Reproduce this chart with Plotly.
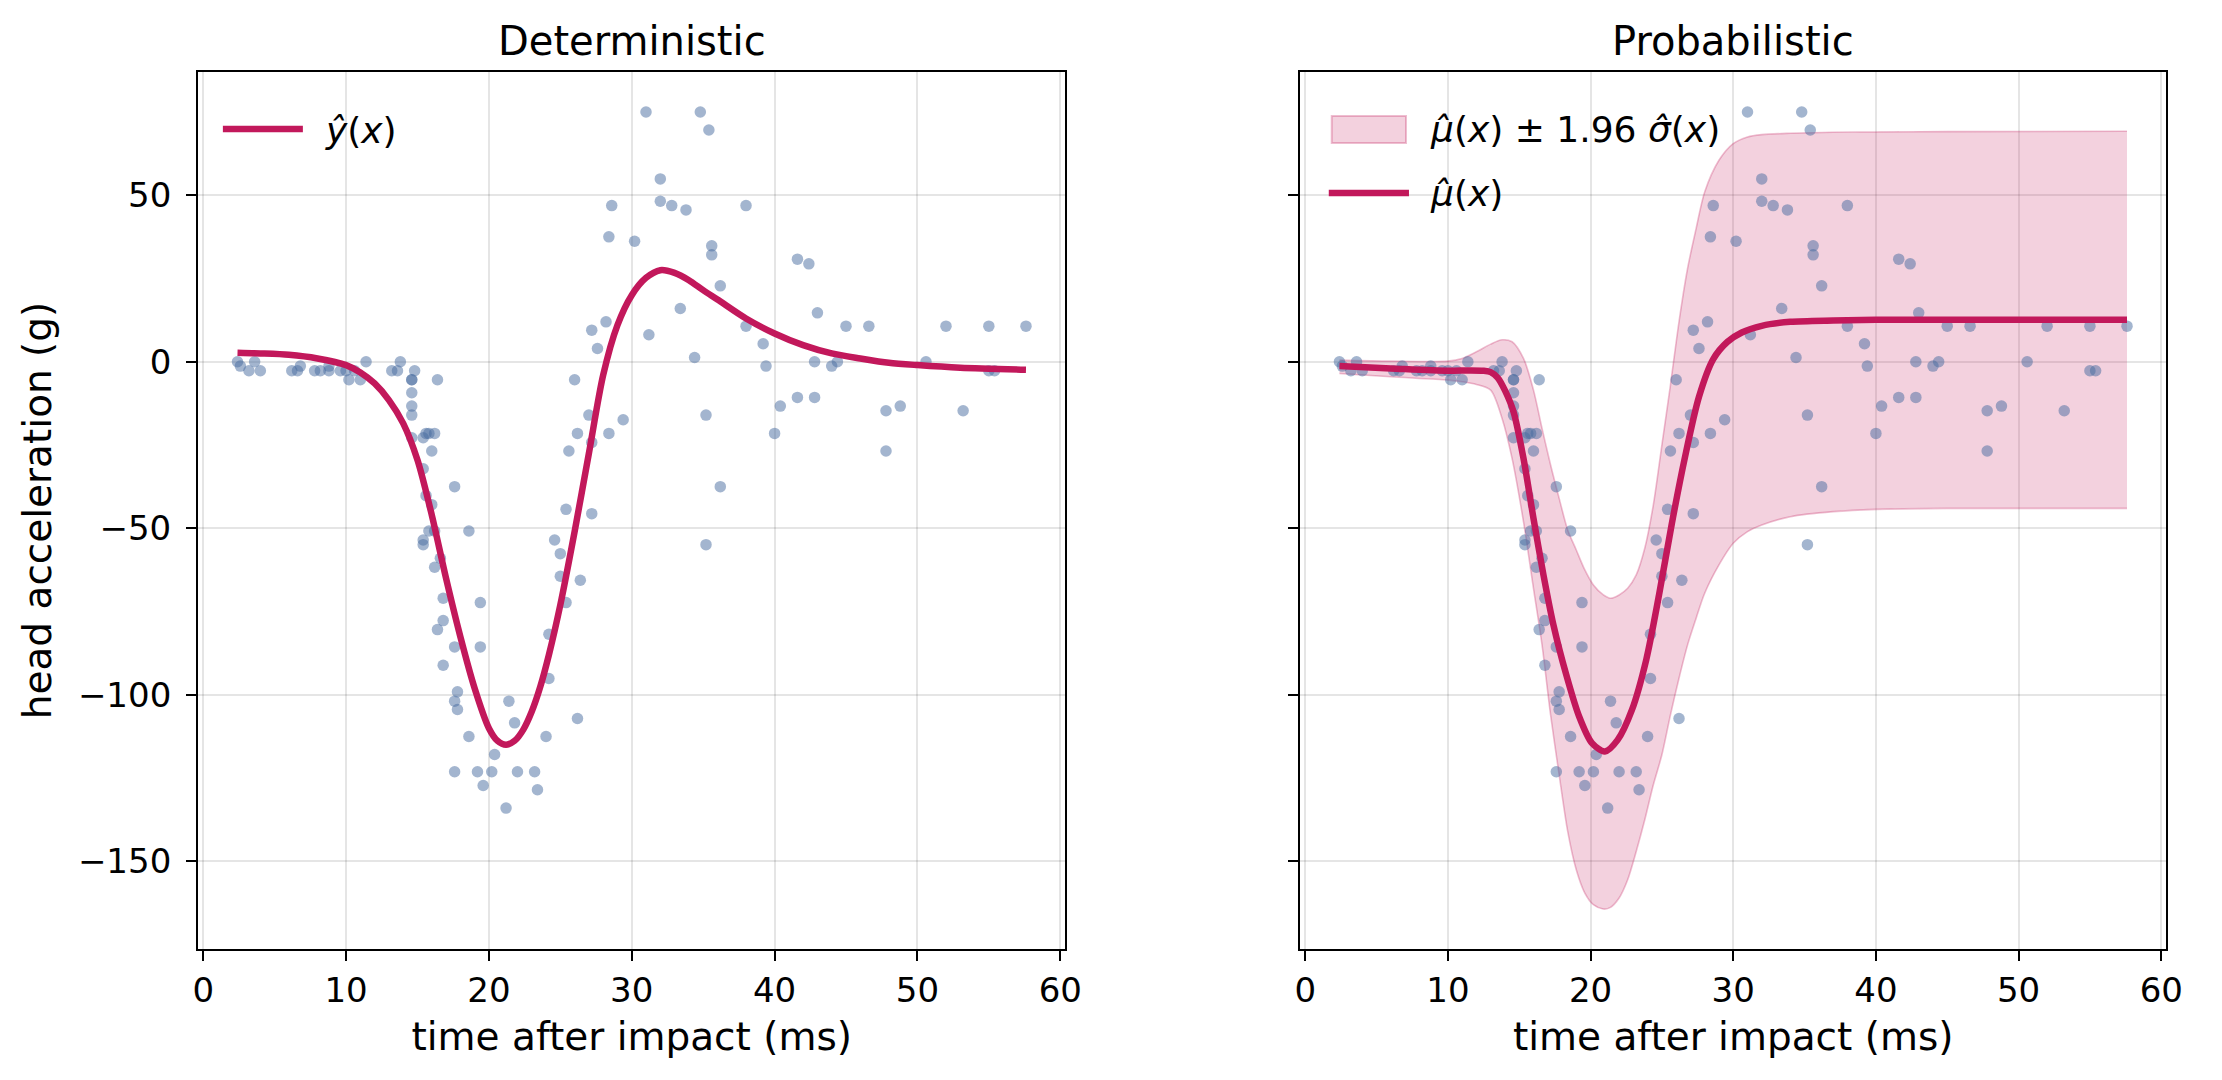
import plotly.graph_objects as go

# ---------------- data (mcycle: head acceleration after impact) ----------------
time_ms = [2.4, 2.6, 3.2, 3.6, 4.0, 6.2, 6.6, 6.8, 7.8, 8.2, 8.8, 8.8, 9.6, 10.0, 10.2, 10.6, 11.0, 11.4,
           13.2, 13.6, 13.8, 14.6, 14.6, 14.6, 14.6, 14.6, 14.6, 14.8, 15.4, 15.4, 15.4, 15.4, 15.6, 15.6,
           15.8, 15.8, 16.0, 16.0, 16.2, 16.2, 16.2, 16.4, 16.4, 16.6, 16.8, 16.8, 16.8, 17.6, 17.6, 17.6,
           17.6, 17.8, 17.8, 18.6, 18.6, 19.2, 19.4, 19.4, 19.6, 20.2, 20.4, 21.2, 21.4, 21.8, 22.0, 23.2,
           23.4, 24.0, 24.2, 24.2, 24.6, 25.0, 25.0, 25.4, 25.4, 25.6, 26.0, 26.2, 26.2, 26.4, 27.0, 27.2,
           27.2, 27.2, 27.6, 28.2, 28.4, 28.4, 28.6, 29.4, 30.2, 31.0, 31.2, 32.0, 32.0, 32.8, 33.4, 33.8,
           34.4, 34.8, 35.2, 35.2, 35.4, 35.6, 35.6, 36.2, 36.2, 38.0, 38.0, 39.2, 39.4, 40.0, 40.4, 41.6,
           41.6, 42.4, 42.8, 42.8, 43.0, 44.0, 44.4, 45.0, 46.6, 47.8, 47.8, 48.8, 50.6, 52.0, 53.2, 55.0,
           55.0, 55.4, 57.6]
accel_g = [0.0, -1.3, -2.7, 0.0, -2.7, -2.7, -2.7, -1.3, -2.7, -2.7, -1.3, -2.7, -2.7, -2.7, -5.4, -2.7,
           -5.4, 0.0, -2.7, -2.7, 0.0, -13.3, -5.4, -5.4, -9.3, -16.0, -22.8, -2.7, -22.8, -32.1, -53.5,
           -54.9, -40.2, -21.5, -21.5, -50.8, -42.9, -26.8, -21.5, -50.8, -61.7, -5.4, -80.4, -59.0, -71.0,
           -91.1, -77.7, -37.5, -85.6, -123.1, -101.9, -99.1, -104.4, -112.5, -50.8, -123.1, -85.6, -72.3,
           -127.2, -123.1, -117.9, -134.0, -101.9, -108.4, -123.1, -123.1, -128.5, -112.5, -95.1, -81.8,
           -53.5, -64.4, -57.6, -72.3, -44.3, -26.8, -5.4, -107.1, -21.5, -65.6, -16.0, -45.6, -24.2, 9.5,
           4.0, 12.0, -21.5, 37.5, 46.9, -17.4, 36.2, 75.0, 8.1, 54.9, 48.2, 46.9, 16.0, 45.6, 1.3, 75.0,
           -16.0, -54.9, 69.6, 34.8, 32.1, -37.5, 22.8, 46.9, 10.7, 5.4, -1.3, -21.5, -13.3, 30.8, -10.7,
           29.4, 0.0, -10.7, 14.7, -1.3, 0.0, 10.7, 10.7, -26.8, -14.7, -13.3, 0.0, 10.7, -14.7, -2.7,
           10.7, -2.7, 10.7]

# deterministic fit y_hat(x)
det_x = [2.4, 4, 6, 8, 10, 11, 12, 13, 14, 15, 16, 17, 18, 19, 20, 20.6, 21.2, 21.8, 22.4, 23, 23.6,
         24.2, 25, 26, 27, 28, 29, 30, 31, 32, 33, 34, 35, 36, 38, 40, 42, 44, 46, 48, 50, 53, 57.6]
det_y = [2.7, 2.5, 2.1, 1.0, -1.0, -3.2, -6.5, -11.5, -18.5, -29.5, -46, -65, -82.5, -98, -110, -113.8,
         -115, -113.8, -110.5, -105, -97.5, -88, -73, -51, -27.5, -4, 11, 20, 25.2, 27.5,
         26.7, 24.5, 21.5, 18.7, 13, 8.5, 5, 2.5, 1, -0.3, -1, -1.8, -2.4]

# probabilistic fit: mean mu_hat(x)
mu_x = [2.4, 6, 10, 11.5, 12.5, 13, 13.5, 14, 14.6, 15.3, 16, 16.7, 17.4, 18.3, 19.2, 20.1, 21, 21.9,
        22.9, 23.9, 24.8, 25.7, 26.6, 27.6, 28.6, 29.6, 30.6, 32, 34, 37, 40, 57.6]
mu_y = [-1.3, -2.0, -2.7, -2.6, -2.7, -3.1, -4.8, -8.6, -15, -29, -47, -64, -79, -94, -106.5, -114.5,
        -117, -113.5, -104.5, -89.5, -70, -48.5, -29, -10.5, 0.8, 6, 8.8, 10.8, 12, 12.4, 12.6, 12.6]

# probabilistic fit: mu_hat(x) +/- 1.96 sigma_hat(x)
band_x = [2.4, 6, 10, 11, 12, 13, 13.8, 14.5, 15.3, 16, 16.6, 17.2, 17.8, 18.4, 19, 19.6, 20.2, 20.9,
          21.4, 22, 22.6, 23.2, 23.8, 24.4, 25, 25.6, 26.2, 26.8, 27.4, 28, 29, 30, 31, 32, 34, 37, 40,
          45, 57.6]
band_hi = [0.5, 0.2, 0.2, 1, 3, 5.3, 6.6, 6, 1, -8.5, -20, -31, -41, -50.5, -56.5, -62.5, -67, -70,
           -71, -70, -68, -64, -56, -43, -25, -7, 12, 28, 40, 51, 60.5, 65.5, 67.5, 68.2, 68.6, 68.9,
           69, 69.1, 69.2]
band_lo = [-3.5, -4.5, -5.5, -6, -6.8, -8.5, -17, -29, -48, -68, -85, -106, -124, -141, -152.5, -159.5,
           -163, -164.3, -163.8, -161, -155.5, -147, -137.5, -127, -118, -106, -95, -85, -77, -69.5,
           -61, -54.5, -51, -49, -46.5, -45, -44.3, -44, -44]

x_ticks = [0, 10, 20, 30, 40, 50, 60]
y_ticks = [-150, -100, -50, 0, 50]

BAND_LABEL = "<i>μ̂</i>(<i>x</i>) ± 1.96 <i>σ̂</i>(<i>x</i>)"
MU_LABEL = "<i>μ̂</i>(<i>x</i>)"
DET_LABEL = "<i>ŷ</i>(<i>x</i>)"

# ---------------- styling ----------------
W, H = 2222, 1080
FONT = "DejaVu Sans"
LINE = "#c2185b"
PT = "rgba(72,108,160,0.5)"
BAND_FILL = "rgba(194,24,91,0.2)"
BAND_EDGE = "rgba(194,24,91,0.28)"
X_RANGE = [-0.36, 60.36]
Y_RANGE = [-176.3, 87.0]
XD1 = [194 / W, 1070 / W]
XD2 = [1307 / W, 2182 / W]
YD = [1 - 949 / H, 1 - 72 / H]
SP = "\u2002"


def px(x):
    return x / W


def py(y):
    return 1 - y / H


fig = go.Figure()

# left: deterministic
fig.add_trace(go.Scatter(x=time_ms, y=accel_g, mode="markers", xaxis="x", yaxis="y",
                         marker=dict(size=11.5, color=PT, line=dict(width=0)),
                         showlegend=False, hoverinfo="skip"))
fig.add_trace(go.Scatter(x=det_x, y=det_y, mode="lines", xaxis="x", yaxis="y",
                         line=dict(color=LINE, width=6.5, shape="spline", smoothing=0.8),
                         name=SP + DET_LABEL, legend="legend"))

# right: probabilistic
fig.add_trace(go.Scatter(x=band_x, y=band_lo, mode="lines", xaxis="x2", yaxis="y2",
                         line=dict(color=BAND_EDGE, width=1.6, shape="spline", smoothing=0.8),
                         showlegend=False, hoverinfo="skip"))
fig.add_trace(go.Scatter(x=band_x, y=band_hi, mode="lines", xaxis="x2", yaxis="y2",
                         fill="tonexty", fillcolor=BAND_FILL,
                         line=dict(color=BAND_EDGE, width=1.6, shape="spline", smoothing=0.8),
                         name=BAND_LABEL, showlegend=False))
fig.add_trace(go.Scatter(x=time_ms, y=accel_g, mode="markers", xaxis="x2", yaxis="y2",
                         marker=dict(size=11.5, color=PT, line=dict(width=0)),
                         showlegend=False, hoverinfo="skip"))
fig.add_trace(go.Scatter(x=mu_x, y=mu_y, mode="lines", xaxis="x2", yaxis="y2",
                         line=dict(color=LINE, width=6.5, shape="spline", smoothing=0.8),
                         name=MU_LABEL, showlegend=False))

axis_common = dict(
    showline=True, linecolor="black", linewidth=2, mirror=True,
    ticks="outside", ticklen=10, tickwidth=2, tickcolor="black",
    showgrid=True, gridcolor="rgba(0,0,0,0.1)", gridwidth=1.5,
    zeroline=False, tickfont=dict(family=FONT, size=34, color="black"),
)

# legend of the right panel (drawn by hand so the patch has matplotlib proportions)
legend_shapes = [
    dict(type="rect", xref="paper", yref="paper", x0=px(1339), x1=px(1414), y0=py(143), y1=py(116),
         fillcolor=BAND_FILL, line=dict(color=BAND_EDGE, width=2), layer="above"),
    dict(type="line", xref="paper", yref="paper", x0=px(1336), x1=px(1417), y0=py(193), y1=py(193),
         line=dict(color=LINE, width=6.5), layer="above"),
]
legend_texts = [
    dict(text=BAND_LABEL, x=px(1436), y=py(130), xref="paper", yref="paper", xanchor="left",
         yanchor="middle", showarrow=False, font=dict(size=36, family=FONT, color="black")),
    dict(text=MU_LABEL, x=px(1436), y=py(193), xref="paper", yref="paper", xanchor="left",
         yanchor="middle", showarrow=False, font=dict(size=36, family=FONT, color="black")),
]

fig.update_layout(
    width=W, height=H,
    margin=dict(l=0, r=0, t=0, b=0),
    paper_bgcolor="white", plot_bgcolor="white",
    font=dict(family=FONT, color="black"),
    xaxis=dict(domain=XD1, range=X_RANGE, tickvals=x_ticks, anchor="y",
               title=dict(text="time after impact (ms)", font=dict(size=39), standoff=14),
               **axis_common),
    yaxis=dict(domain=YD, range=Y_RANGE, tickvals=y_ticks, anchor="x",
               title=dict(text="head acceleration (g)", font=dict(size=39), standoff=14),
               ticklabelstandoff=8, **axis_common),
    xaxis2=dict(domain=XD2, range=X_RANGE, tickvals=x_ticks, anchor="y2",
                title=dict(text="time after impact (ms)", font=dict(size=39), standoff=14),
                **axis_common),
    yaxis2=dict(domain=YD, range=Y_RANGE, tickvals=y_ticks, anchor="x2", matches="y",
                showticklabels=False, **axis_common),
    legend=dict(x=214 / W, y=1 - 99 / H, yanchor="top", xanchor="left", bgcolor="rgba(0,0,0,0)",
                font=dict(size=36, family=FONT, color="black"), itemwidth=80),
    shapes=legend_shapes,
    annotations=[
        dict(text="Deterministic", x=(XD1[0] + XD1[1]) / 2, y=py(41), xref="paper", yref="paper",
             xanchor="center", yanchor="middle", showarrow=False, font=dict(size=40, family=FONT)),
        dict(text="Probabilistic", x=(XD2[0] + XD2[1]) / 2, y=py(41), xref="paper", yref="paper",
             xanchor="center", yanchor="middle", showarrow=False, font=dict(size=40, family=FONT)),
    ] + legend_texts,
)

fig.write_html("out.html")
